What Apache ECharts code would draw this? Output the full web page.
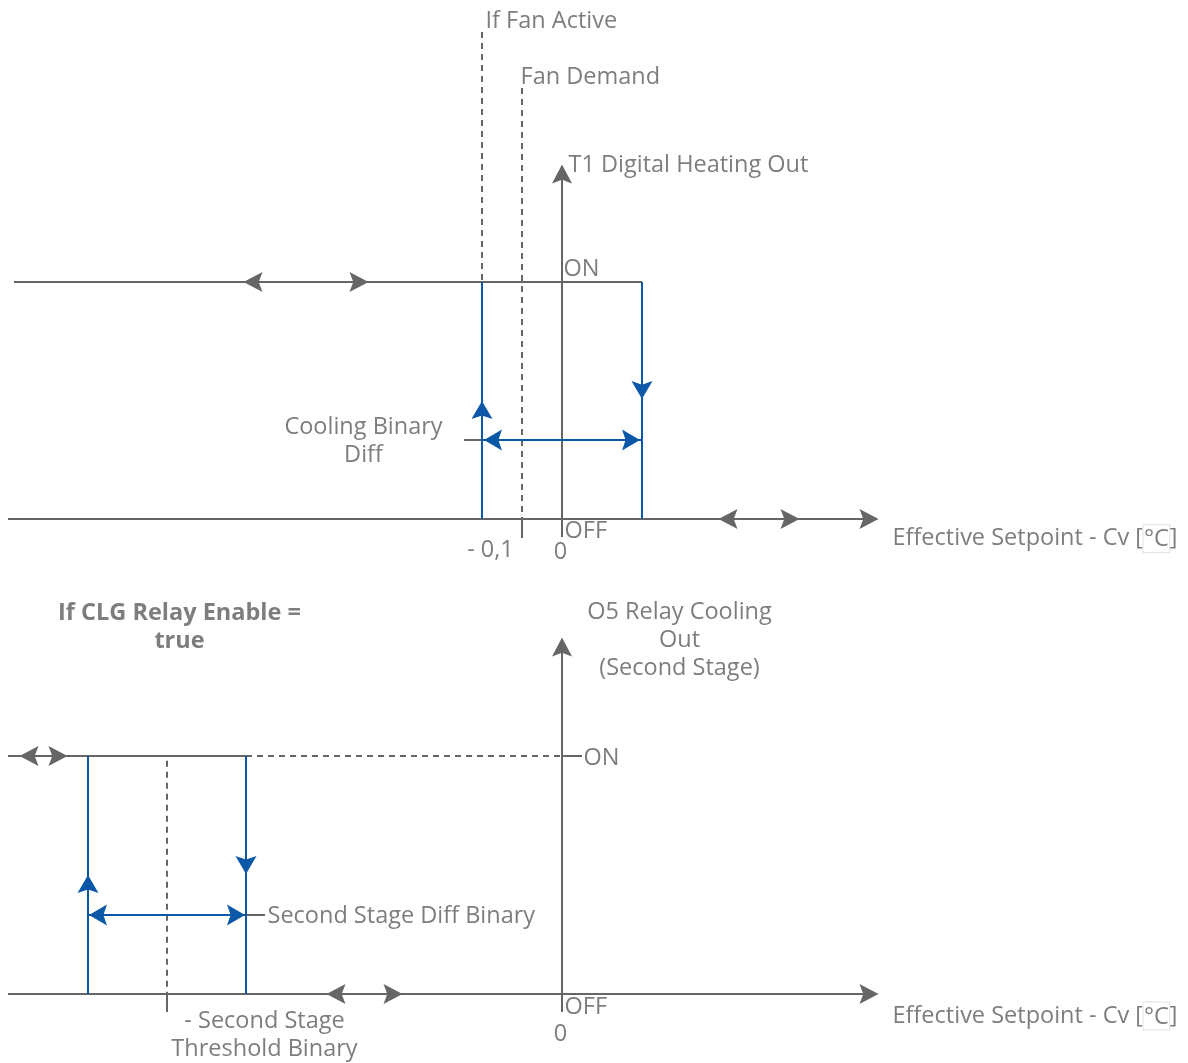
<!DOCTYPE html>
<html>
<head>
<meta charset="utf-8">
<script src="https://cdn.jsdelivr.net/npm/echarts@6/dist/echarts.min.js"></script>
<style>
  html, body { margin: 0; padding: 0; background: #fff; }
  #main { width: 1188px; height: 1063px; }
</style>
</head>
<body>
<div id="main"></div>
<script>
// x: Effective Setpoint - Cv [°C] (0 = setpoint), y: 0 = OFF, 1 = ON
const xRange = [-1.405, 1.565]
const topYRange = [-0.2574, 2.1899]
const botYRange = [-0.2899, 1.7395]

// ---- top diagram: T1 Digital Heating Out ----
const topGray = [
  [[-1.37, 1], [0.2, 1]],
  [[-1.385, 0], [0.77, 0]],
  [[0, -0.076], [0, 1.46]],
  [[-0.1, 0], [-0.1, -0.08]],
  [[-0.245, 0.333], [-0.2, 0.333]]
]
const topDashed = [
  [[-0.2, 2.055], [-0.2, 1]],
  [[-0.1, 1.819], [-0.1, 0]]
]
const topBlue = [
  [[-0.2, 0], [-0.2, 1]],
  [[0.2, 1], [0.2, 0]],
  [[-0.2, 0.333], [0.2, 0.333]]
]
const topGrayHeads = [
  [-0.7725, 1, 'left'], [-0.5075, 1, 'right'],
  [0.415, 0, 'left'], [0.57, 0, 'right'], [0.7675, 0, 'right'],
  [0, 1.456, 'up']
]
const topBlueHeads = [
  [-0.2, 0.46, 'up'], [0.2, 0.544, 'down'],
  [-0.1725, 0.333, 'left'], [0.1725, 0.333, 'right']
]
const topLabels = [
  ['If Fan Active', -0.19, 2.097, 'left'],
  ['Fan Demand', -0.1025, 1.861, 'left'],
  ['T1 Digital Heating Out', 0.0175, 1.49, 'left'],
  ['ON', 0.005, 1.053, 'left'],
  ['Cooling Binary\nDiff', -0.495, 0.325, 'center'],
  ['OFF', 0.0075, -0.054, 'left'],
  ['- 0,1', -0.1775, -0.135, 'center'],
  ['0', -0.0025, -0.143, 'center'],
  ['Effective Setpoint - Cv [{box|°C}]', 0.8275, -0.085, 'left']
]

// ---- bottom diagram: O5 Relay Cooling Out (Second Stage) ----
const botGray = [
  [[-1.385, 0], [0.77, 0]],
  [[0, -0.0756], [0, 1.45]],
  [[-1.385, 1], [-0.79, 1]],
  [[0, 1], [0.05, 1]],
  [[-0.79, 0.332], [-0.7425, 0.332]],
  [[-0.9875, 0], [-0.9875, -0.0756]]
]
const botDashed = [
  [[-0.79, 1], [0, 1]],
  [[-0.9875, 0.98], [-0.9875, 0]]
]
const botBlue = [
  [[-1.185, 0], [-1.185, 1]],
  [[-0.79, 1], [-0.79, 0]],
  [[-1.185, 0.332], [-0.79, 0.332]]
]
const botGrayHeads = [
  [-1.3325, 1, 'left'], [-1.26, 1, 'right'],
  [-0.565, 0, 'left'], [-0.4225, 0, 'right'], [0.7675, 0, 'right'],
  [0, 1.458, 'up']
]
const botBlueHeads = [
  [-1.185, 0.462, 'up'], [-0.79, 0.542, 'down'],
  [-1.16, 0.332, 'left'], [-0.815, 0.332, 'right']
]
const botLabels = [
  ['O5 Relay Cooling\nOut\n(Second Stage)', 0.295, 1.486, 'center'],
  ['ON', 0.055, 0.99, 'left'],
  ['Second Stage Diff Binary', -0.735, 0.326, 'left'],
  ['OFF', 0.0075, -0.056, 'left'],
  ['0', -0.0025, -0.17, 'center'],
  ['- Second Stage\nThreshold Binary', -0.7425, -0.174, 'center'],
  ['Effective Setpoint - Cv [{box|°C}]', 0.8275, -0.094, 'left']
]
const boldLabels = [
  ['If CLG Relay Enable =\ntrue', -0.955, 1.54, 'center']
]

const GRAY = '#666666'
const BLUE = '#0b58a8'
const TEXT = '#5c5c5c'
const rotations = {right: 0, up: 90, left: 180, down: -90}
const headPath = 'path://M0,0 L20,10 L0,20 L4,10 Z'

function segs(data, gi, color, dashed) {
  return {
    type: 'lines',
    coordinateSystem: 'cartesian2d',
    xAxisIndex: gi,
    yAxisIndex: gi,
    silent: true,
    z: dashed ? 1 : (color === BLUE ? 3 : 2),
    lineStyle: {color: color, width: 2, opacity: 1, type: dashed ? [6, 5] : 'solid'},
    data: data.map(c => ({coords: c}))
  }
}

function heads(data, gi, color, size) {
  return {
    type: 'scatter',
    xAxisIndex: gi,
    yAxisIndex: gi,
    silent: true,
    z: 5,
    symbol: headPath,
    symbolSize: size,
    itemStyle: {color: color, opacity: 1},
    data: data.map(h => ({value: [h[0], h[1]], symbolRotate: rotations[h[2]]}))
  }
}

function labels(data, gi, bold) {
  return {
    type: 'scatter',
    xAxisIndex: gi,
    yAxisIndex: gi,
    silent: true,
    z: 6,
    symbolSize: 1,
    itemStyle: {color: 'transparent'},
    label: {
      show: true,
      position: [0, 0],
      verticalAlign: 'middle',
      color: TEXT,
      fontFamily: 'Open Sans',
      fontSize: 23.5,
      fontWeight: bold ? 'bold' : 'normal',
      lineHeight: 28,
      formatter: p => p.name,
      rich: {
        box: {
          color: TEXT,
          fontFamily: 'Open Sans',
          fontSize: 23.5,
          borderColor: '#d9d9d9',
          borderWidth: 1,
          padding: [3, 1, 1, 1]
        }
      }
    },
    data: data.map(l => ({name: l[0], value: [l[1], l[2]], label: {align: l[3]}}))
  }
}

const chart = echarts.init(document.getElementById('main'))
chart.setOption({
  animation: false,
  backgroundColor: '#fff',
  grid: [
    {left: 0, right: 0, top: 0, height: 580},
    {left: 0, right: 0, top: 580, height: 483}
  ],
  xAxis: [
    {type: 'value', gridIndex: 0, min: xRange[0], max: xRange[1], show: false},
    {type: 'value', gridIndex: 1, min: xRange[0], max: xRange[1], show: false}
  ],
  yAxis: [
    {type: 'value', gridIndex: 0, min: topYRange[0], max: topYRange[1], show: false},
    {type: 'value', gridIndex: 1, min: botYRange[0], max: botYRange[1], show: false}
  ],
  series: [
    segs(topDashed, 0, GRAY, true),
    segs(topGray, 0, GRAY, false),
    segs(topBlue, 0, BLUE, false),
    heads(topGrayHeads, 0, GRAY, [19, 20]),
    heads(topBlueHeads, 0, BLUE, [18, 21]),
    labels(topLabels, 0, false),
    segs(botDashed, 1, GRAY, true),
    segs(botGray, 1, GRAY, false),
    segs(botBlue, 1, BLUE, false),
    heads(botGrayHeads, 1, GRAY, [19, 20]),
    heads(botBlueHeads, 1, BLUE, [18, 21]),
    labels(botLabels, 1, false),
    labels(boldLabels, 1, true)
  ]
})
</script>
</body>
</html>
